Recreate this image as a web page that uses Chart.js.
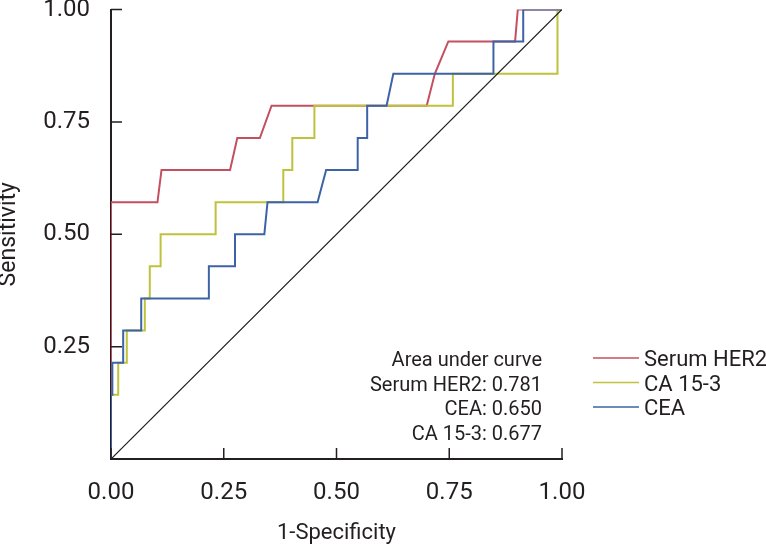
<!DOCTYPE html>
<html>
<head>
    <meta charset="utf-8">
    <script src="https://cdn.jsdelivr.net/npm/chart.js"></script>
    <style>
        body { margin: 0; background: #fff; }
        #wrap { width: 766px; height: 547px; }
    </style>
</head>
<body>
<div id="wrap"><canvas id="rocChart"></canvas></div>
<script>
// ROC points (x = 1-specificity, y = sensitivity)
const her2Fpr  = [0, 0, 0.103, 0.112, 0.264, 0.280, 0.330, 0.356, 0.700, 0.718, 0.748, 0.896, 0.902, 1]
const her2Sens = [0, 0.571, 0.571, 0.643, 0.643, 0.714, 0.714, 0.786, 0.786, 0.857, 0.929, 0.929, 1, 1]

const caFpr  = [0, 0, 0.016, 0.016, 0.035, 0.035, 0.075, 0.075, 0.086, 0.086, 0.110, 0.110, 0.232, 0.232, 0.382, 0.382, 0.402, 0.402, 0.451, 0.451, 0.758, 0.758, 0.990, 0.990, 1]
const caSens = [0, 0.143, 0.143, 0.214, 0.214, 0.286, 0.286, 0.357, 0.357, 0.429, 0.429, 0.5, 0.5, 0.571, 0.571, 0.643, 0.643, 0.714, 0.714, 0.786, 0.786, 0.857, 0.857, 1, 1]

const ceaFpr  = [0, 0, 0.003, 0.003, 0.027, 0.027, 0.067, 0.067, 0.217, 0.217, 0.275, 0.275, 0.340, 0.347, 0.458, 0.477, 0.547, 0.547, 0.568, 0.568, 0.611, 0.626, 0.848, 0.848, 0.914, 0.914, 1]
const ceaSens = [0, 0.143, 0.143, 0.214, 0.214, 0.286, 0.286, 0.357, 0.357, 0.429, 0.429, 0.5, 0.5, 0.571, 0.571, 0.643, 0.643, 0.714, 0.714, 0.786, 0.786, 0.857, 0.857, 0.929, 0.929, 1, 1]

const refLine = [0, 1]

const seriesNames = ["Serum HER2", "CA 15-3", "CEA"]
const seriesColors = ["#c4505f", "#bec23c", "#3d63a6"]
const aucLines = ["Area under curve", "Serum HER2: 0.781", "CEA: 0.650", "CA 15-3: 0.677"]

const xTicks = [0, 0.25, 0.5, 0.75, 1]
const yTicks = [0.25, 0.5, 0.75, 1]

const FONT = 'Roboto, "Liberation Sans", sans-serif'
const INK = "#231f20"

function pts(xs, ys) {
    var out = []
    for (let i = 0; i < xs.length; i++) out.push({x: xs[i], y: ys[i]})
    return out
}

// inward tick marks, the AUC note and the legend
const extras = {
    id: 'extras',
    afterDraw(chart) {
        const ctx = chart.ctx
        const xs = chart.scales.x
        const ys = chart.scales.y
        const area = chart.chartArea
        ctx.save()
        ctx.strokeStyle = INK
        ctx.lineWidth = 1.5
        ctx.beginPath()
        xTicks.forEach(v => {
            const px = xs.getPixelForValue(v)
            ctx.moveTo(px, area.bottom)
            ctx.lineTo(px, area.bottom - 11)
        })
        yTicks.forEach(v => {
            const py = ys.getPixelForValue(v)
            ctx.moveTo(area.left, py)
            ctx.lineTo(area.left + 11, py)
        })
        ctx.stroke()

        ctx.fillStyle = INK
        ctx.font = '20px ' + FONT
        ctx.textAlign = 'right'
        ctx.textBaseline = 'alphabetic'
        aucLines.forEach((t, i) => ctx.fillText(t, 542, 366 + i * 24.5))

        ctx.font = '22px ' + FONT
        ctx.textAlign = 'left'
        seriesNames.forEach((name, i) => {
            const y = 358 + i * 24.5
            ctx.strokeStyle = seriesColors[i]
            ctx.lineWidth = 1.5
            ctx.beginPath()
            ctx.moveTo(593, y)
            ctx.lineTo(639, y)
            ctx.stroke()
            ctx.fillText(name, 644, y + 8)
        })
        ctx.restore()
    }
}

const chart = document.getElementById("rocChart")
let rocChart = new Chart(chart, {
    type: 'scatter',
    data: {
        datasets: [{
            label: seriesNames[0],
            data: pts(her2Fpr, her2Sens),
            borderColor: seriesColors[0],
            order: 3
        }, {
            label: seriesNames[1],
            data: pts(caFpr, caSens),
            borderColor: seriesColors[1],
            order: 2
        }, {
            label: seriesNames[2],
            data: pts(ceaFpr, ceaSens),
            borderColor: seriesColors[2],
            order: 1
        }, {
            label: "reference",
            data: pts(refLine, refLine),
            borderColor: "#1a1a1a",
            borderWidth: 1.2,
            order: 0
        }]
    },
    options: {
        responsive: true,
        maintainAspectRatio: false,
        animation: false,
        showLine: true,
        elements: {
            point: { radius: 0, hoverRadius: 0 },
            line: { borderWidth: 2, tension: 0 }
        },
        layout: { padding: { left: 0, right: 204, top: 9.5, bottom: 0 } },
        plugins: {
            legend: { display: false },
            tooltip: { enabled: false }
        },
        scales: {
            x: {
                type: 'linear',
                min: 0,
                max: 1,
                afterBuildTicks: s => { s.ticks = xTicks.map(v => ({value: v})) },
                afterFit: s => { s.height = 88; s.paddingLeft = 0; s.paddingRight = 0 },
                grid: { display: true, drawOnChartArea: false, drawTicks: false },
                border: { display: true, color: INK, width: 2 },
                ticks: {
                    padding: 20,
                    color: INK,
                    font: { family: FONT, size: 24 },
                    maxRotation: 0,
                    callback: v => v.toFixed(2)
                },
                title: {
                    display: true,
                    text: '1-Specificity',
                    color: INK,
                    font: { family: FONT, size: 22, lineHeight: 1.2 },
                    padding: 0
                }
            },
            y: {
                type: 'linear',
                min: 0,
                max: 1,
                afterBuildTicks: s => { s.ticks = yTicks.map(v => ({value: v})) },
                afterFit: s => { s.width = 111; s.paddingTop = 0; s.paddingBottom = 0 },
                grid: { display: true, drawOnChartArea: false, drawTicks: false },
                border: { display: true, color: INK, width: 2 },
                ticks: {
                    padding: 21,
                    color: INK,
                    font: { family: FONT, size: 24 },
                    callback: v => v.toFixed(2)
                },
                title: {
                    display: true,
                    text: 'Sensitivity',
                    color: INK,
                    font: { family: FONT, size: 23, lineHeight: 0.8 },
                    padding: 0
                }
            }
        }
    },
    plugins: [extras]
})
</script>
</body>
</html>
